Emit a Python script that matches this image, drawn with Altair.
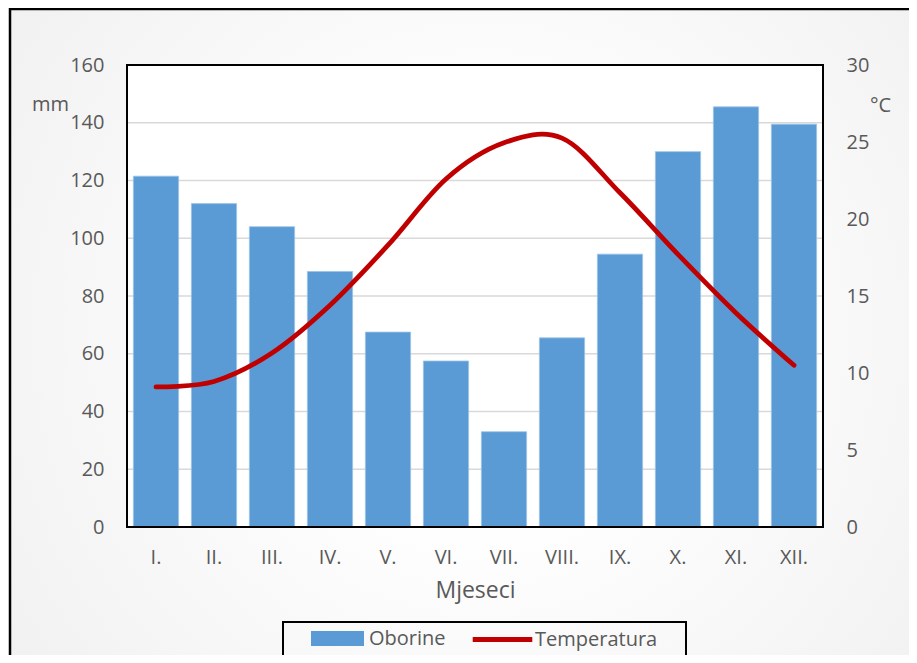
import altair as alt
import pandas as pd

months = ["I.", "II.", "III.", "IV.", "V.", "VI.", "VII.", "VIII.", "IX.", "X.", "XI.", "XII."]
oborine = [121.5, 112, 104, 88.5, 67.5, 57.5, 33, 65.5, 94.5, 130, 145.5, 139.5]
temperatura = [9.1, 9.45, 11.3, 14.4, 18.3, 22.6, 24.95, 25.25, 21.7, 17.7, 13.9, 10.5]
mm_ticks = [0, 20, 40, 60, 80, 100, 120, 140, 160]
grid_mm = [20, 40, 60, 80, 100, 120, 140]
c_ticks = [0, 5, 10, 15, 20, 25, 30]

W, H = 696, 462
FONT = "Open Sans"
TXT = "#595959"
BLUE = "#5B9BD5"
RED = "#C00000"
FS = 20

df = pd.DataFrame({"mjesec": months, "oborine": oborine, "temperatura": temperatura,
                   "p": "Oborine", "t": "Temperatura"})
one = pd.DataFrame({"a": [0]})

x = alt.X("mjesec:N", sort=months,
          scale=alt.Scale(paddingInner=0.22, paddingOuter=0.11),
          axis=alt.Axis(title="Mjeseci", labelAngle=0, ticks=False, tickSize=0, domain=False,
                        grid=False, labelPadding=20, labelFontSize=FS, labelFont=FONT,
                        labelColor=TXT, titleFontSize=23, titleFont=FONT, titleColor=TXT,
                        titleFontWeight="normal", titleY=70, titleBaseline="alphabetic",
                        zindex=1))

grad = alt.RadialGradient(gradient="radial",
                          stops=[alt.GradientStop(color="#ffffff", offset=0.25),
                                 alt.GradientStop(color="#ececec", offset=1)],
                          x1=0.5, y1=0.5, r1=0, x2=0.5, y2=0.5, r2=0.75)

bg = alt.Chart(one).mark_rect(fill=grad, stroke="black", strokeWidth=2.5).encode(
    x=alt.value(-117), x2=alt.value(W + 130), y=alt.value(-56), y2=alt.value(H + 130))

plotfill = alt.Chart(one).mark_rect(fill="white").encode(
    x=alt.value(0), x2=alt.value(W), y=alt.value(0), y2=alt.value(H))

grid = alt.Chart(pd.DataFrame({"v": grid_mm})).mark_rule(color="#d9d9d9", strokeWidth=1.5).encode(
    y=alt.Y("v:Q", scale=alt.Scale(domain=[0, 160], nice=False), axis=None))

bars = alt.Chart(df).mark_bar(stroke="#9cc3e6", strokeWidth=0.8).encode(
    x=x,
    y=alt.Y("oborine:Q", scale=alt.Scale(domain=[0, 160], nice=False),
            axis=alt.Axis(orient="left", values=mm_ticks, title="mm", titleAngle=0,
                          titleX=-77, titleY=45, titleAlign="center", titleBaseline="alphabetic",
                          titleFontSize=FS, titleFont=FONT, titleColor=TXT, titleFontWeight="normal",
                          ticks=False, tickSize=0, domain=False, grid=False, labelPadding=23,
                          labelFontSize=FS, labelFont=FONT, labelColor=TXT, zindex=1)),
    fill=alt.Fill("p:N", scale=alt.Scale(domain=["Oborine"], range=[BLUE]),
                  legend=alt.Legend(title=None, orient="none", legendX=184, legendY=547,
                                    symbolType="M-1,-0.283H1V0.283H-1Z", symbolSize=2809,
                                    symbolStrokeWidth=0, labelFontSize=FS, labelFont=FONT,
                                    labelColor=TXT, padding=0, labelOffset=5)),
)

line = alt.Chart(df).mark_line(strokeWidth=4.8, interpolate="cardinal", strokeCap="round").encode(
    x=x,
    y=alt.Y("temperatura:Q", scale=alt.Scale(domain=[0, 30], nice=False),
            axis=alt.Axis(orient="right", values=c_ticks, title="°C", titleAngle=0,
                          titleX=57, titleY=46, titleAlign="center", titleBaseline="alphabetic",
                          titleFontSize=FS, titleFont=FONT, titleColor=TXT, titleFontWeight="normal",
                          ticks=False, tickSize=0, domain=False, grid=False, labelPadding=23,
                          labelFontSize=FS, labelFont=FONT, labelColor=TXT, zindex=1)),
    stroke=alt.Stroke("t:N", scale=alt.Scale(domain=["Temperatura"], range=[RED]),
                      legend=alt.Legend(title=None, orient="none", legendX=343, legendY=542,
                                        symbolType="stroke", symbolSize=3550,
                                        symbolStrokeWidth=5, labelFontSize=FS, labelFont=FONT,
                                        labelColor=TXT, padding=0, labelOffset=0)),
)

border = alt.Chart(one).mark_rect(fillOpacity=0, stroke="black", strokeWidth=2).encode(
    x=alt.value(0), x2=alt.value(W), y=alt.value(0), y2=alt.value(H))

legbox = alt.Chart(one).mark_rect(fillOpacity=0, stroke="black", strokeWidth=2).encode(
    x=alt.value(156), x2=alt.value(559), y=alt.value(557), y2=alt.value(591))

chart = alt.layer(bg, plotfill, grid, bars, line, border, legbox).resolve_scale(
    y="independent").properties(
    width=W, height=H,
    autosize=alt.AutoSizeParams(type="none"),
    padding={"left": 119, "top": 57, "right": 86, "bottom": 128},
).configure_view(stroke=None).configure(background="white")

chart.save("out.html", embed_options={"renderer": "svg", "actions": False})
